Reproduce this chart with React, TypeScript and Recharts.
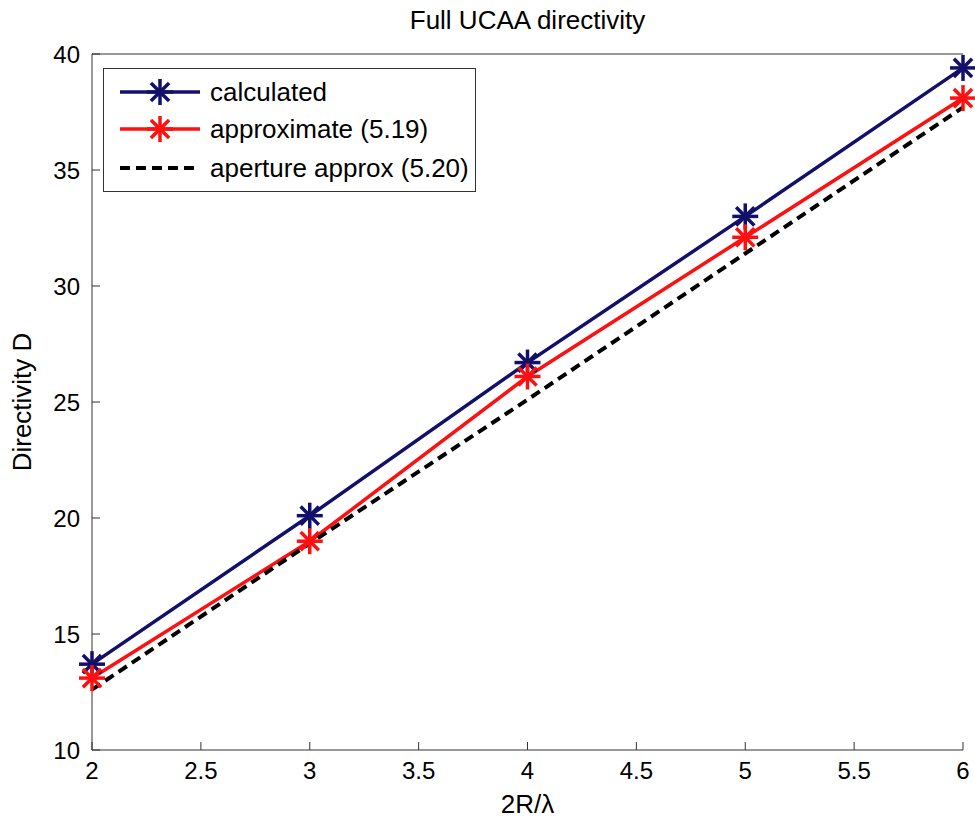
import { LineChart, Line, XAxis, YAxis, Legend, Label } from 'recharts'

const ratios = [2, 3, 4, 5, 6]
const calculated = [13.7, 20.1, 26.7, 33.0, 39.4]
const approximate = [13.1, 19.0, 26.1, 32.1, 38.1]
const aperture = [12.6, 18.9, 25.1, 31.4, 37.7]

const xTicks = [2, 2.5, 3, 3.5, 4, 4.5, 5, 5.5, 6]
const yTicks = [10, 15, 20, 25, 30, 35, 40]

const data = ratios.map((r, i) => ({
  r,
  calculated: calculated[i],
  approximate: approximate[i],
  aperture: aperture[i],
}))

const FONT = '"Liberation Sans", Arial, sans-serif'
const NAVY = '#12106b'
const RED = '#ff1010'
const AXIS = '#333'

function Star({ cx, cy, color, r = 13 }: { cx: number; cy: number; color: string; r?: number }) {
  const d = r * 0.7
  return (
    <g stroke={color} strokeWidth={3.5} strokeLinecap="butt">
      <line x1={cx - r} y1={cy} x2={cx + r} y2={cy} />
      <line x1={cx} y1={cy - r} x2={cx} y2={cy + r} />
      <line x1={cx - d} y1={cy - d} x2={cx + d} y2={cy + d} />
      <line x1={cx - d} y1={cy + d} x2={cx + d} y2={cy - d} />
    </g>
  )
}

const legendRows = [
  { label: 'calculated', color: NAVY, width: 3.5, dash: undefined, star: true },
  { label: 'approximate (5.19)', color: RED, width: 3.5, dash: undefined, star: true },
  { label: 'aperture approx (5.20)', color: '#000', width: 4, dash: '10 6', star: false },
]

function LegendBox() {
  const rowY = [24, 61, 100]
  return (
    <svg width={373} height={124} style={{ display: 'block' }}>
      <rect x={0.5} y={0.5} width={372} height={123} fill="#fff" stroke={AXIS} strokeWidth={1} />
      {legendRows.map((row, i) => (
        <g key={row.label}>
          <line x1={17} y1={rowY[i]} x2={97} y2={rowY[i]} stroke={row.color} strokeWidth={row.width} strokeDasharray={row.dash} />
          {row.star && <Star cx={57} cy={rowY[i]} color={row.color} />}
          <text x={107} y={rowY[i] + 9} fontSize={26} fontFamily={FONT} fill="#000">
            {row.label}
          </text>
        </g>
      ))}
    </svg>
  )
}

const tickStyle = { fontSize: 24, fontFamily: FONT, fill: '#000' }
const labelStyle = { fontSize: 26, fontFamily: FONT, fill: '#000' }

export default function App() {
  return (
    <div style={{ position: 'absolute', left: 0, top: 0, background: '#fff' }}>
      <LineChart width={975} height={822} data={data} margin={{ top: 0, right: 12, bottom: 0, left: 0 }}>
        <XAxis
          xAxisId="top"
          orientation="top"
          dataKey="r"
          type="number"
          domain={[2, 6]}
          ticks={xTicks}
          height={54}
          tick={false}
          tickSize={-8}
          stroke={AXIS}
        >
          <Label value="Full UCAA directivity" position="insideTop" offset={11} style={labelStyle} />
        </XAxis>
        <XAxis
          dataKey="r"
          type="number"
          domain={[2, 6]}
          ticks={xTicks}
          height={72}
          tick={tickStyle}
          tickSize={-8}
          tickMargin={20}
          stroke={AXIS}
        >
          <Label value="2R/λ" position="insideBottom" offset={9} style={labelStyle} />
        </XAxis>
        <YAxis
          type="number"
          domain={[10, 40]}
          ticks={yTicks}
          width={92}
          tick={tickStyle}
          tickSize={-8}
          tickMargin={20}
          stroke={AXIS}
        >
          <Label
            value="Directivity D"
            angle={-90}
            position="insideLeft"
            offset={22}
            style={{ ...labelStyle, textAnchor: 'middle' }}
          />
        </YAxis>
        <YAxis
          yAxisId="right"
          orientation="right"
          type="number"
          domain={[10, 40]}
          ticks={yTicks}
          width={0}
          tick={false}
          tickSize={-8}
          stroke={AXIS}
        />
        <Legend
          layout="vertical"
          align="center"
          verticalAlign="middle"
          wrapperStyle={{ left: 103, top: 68, width: 373, height: 124 }}
          content={() => <LegendBox />}
        />
        <Line
          dataKey="calculated"
          stroke={NAVY}
          strokeWidth={3.5}
          isAnimationActive={false}
          activeDot={false}
          dot={(p: any) => <Star key={`c${p.index}`} cx={p.cx} cy={p.cy} color={NAVY} />}
        />
        <Line
          dataKey="approximate"
          stroke={RED}
          strokeWidth={3.5}
          isAnimationActive={false}
          activeDot={false}
          dot={(p: any) => <Star key={`a${p.index}`} cx={p.cx} cy={p.cy} color={RED} />}
        />
        <Line
          dataKey="aperture"
          stroke="#000"
          strokeWidth={4}
          strokeDasharray="10 6"
          isAnimationActive={false}
          activeDot={false}
          dot={false}
        />
      </LineChart>
    </div>
  )
}
